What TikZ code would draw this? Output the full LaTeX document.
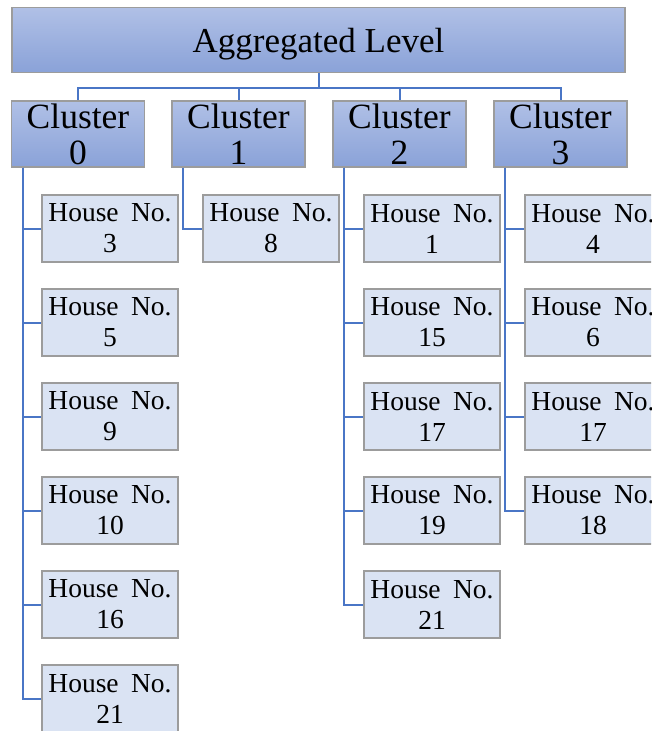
\documentclass[tikz,border=0pt]{standalone}
\usepackage{fontspec}
\setmainfont{Liberation Serif}
\usetikzlibrary{calc}
\definecolor{lvltop}{HTML}{B0C0E6}
\definecolor{lvlbot}{HTML}{8AA2D8}
\definecolor{housefill}{HTML}{DAE3F3}
\definecolor{boxline}{HTML}{9C9C9C}
\definecolor{conn}{HTML}{4A76C6}
\tikzset{
  lvlbox/.style={draw=boxline, line width=1.5pt, top color=lvltop, bottom color=lvlbot,
    inner sep=0pt, align=center, text=black},
  topbox/.style={lvlbox, minimum width=613pt, minimum height=65pt, text depth=0pt,
    font=\fontsize{35}{40}\selectfont},
  clbox/.style={lvlbox, minimum width=133pt, minimum height=66pt,
    font=\fontsize{35.5}{36}\selectfont},
  housebox/.style={draw=boxline, line width=1.5pt, fill=housefill, inner sep=0pt,
    minimum width=136pt, minimum height=67pt, align=center, text=black,
    font=\fontsize{27.5}{31}\selectfont},
  link/.style={draw=conn, line width=2pt}
}
\newcommand{\hs}[1]{House\hspace{5.5pt} No.\\#1}
\begin{document}
\begin{tikzpicture}[x=1pt,y=-1pt]
\clip (0,0) rectangle (651,731);
\fill[white] (0,0) rectangle (651,731);
\node[topbox] (top) at (318.5,40) {Aggregated Level};
\node[clbox] (c0) at (78,134) {Cluster\\0};
\node[clbox] (c1) at (238.5,134) {Cluster\\1};
\node[clbox] (c2) at (399.5,134) {Cluster\\2};
\node[clbox] (c3) at (560.5,134) {Cluster\\3};
% cluster 0
\node[housebox] (a1) at (110,228.5) {\hs{3}};
\node[housebox] (a2) at (110,322.5) {\hs{5}};
\node[housebox] (a3) at (110,416.5) {\hs{9}};
\node[housebox] (a4) at (110,510.5) {\hs{10}};
\node[housebox] (a5) at (110,604.5) {\hs{16}};
\node[housebox] (a6) at (110,698.5) {\hs{21}};
% cluster 1
\node[housebox] (b1) at (271,228.5) {\hs{8}};
% cluster 2
\node[housebox] (d1) at (432,228.5) {\hs{1}};
\node[housebox] (d2) at (432,322.5) {\hs{15}};
\node[housebox] (d3) at (432,416.5) {\hs{17}};
\node[housebox] (d4) at (432,510.5) {\hs{19}};
\node[housebox] (d5) at (432,604.5) {\hs{21}};
% cluster 3
\node[housebox] (e1) at (593,228.5) {\hs{4}};
\node[housebox] (e2) at (593,322.5) {\hs{6}};
\node[housebox] (e3) at (593,416.5) {\hs{17}};
\node[housebox] (e4) at (593,510.5) {\hs{18}};
% top connectors
\coordinate (hub) at ($(top.south)+(0,15)$);
\foreach \c in {c0,c1,c2,c3}{
  \draw[link] (top.south) -- (hub) -| (\c.north);
}
% spines
\foreach \h in {a1,a2,a3,a4,a5,a6}{ \draw[link] ($(c0.south west)+(12,0)$) |- (\h.west); }
\foreach \h in {b1}{ \draw[link] ($(c1.south west)+(12,0)$) |- (\h.west); }
\foreach \h in {d1,d2,d3,d4,d5}{ \draw[link] ($(c2.south west)+(12,0)$) |- (\h.west); }
\foreach \h in {e1,e2,e3,e4}{ \draw[link] ($(c3.south west)+(12,0)$) |- (\h.west); }
\end{tikzpicture}
\end{document}
